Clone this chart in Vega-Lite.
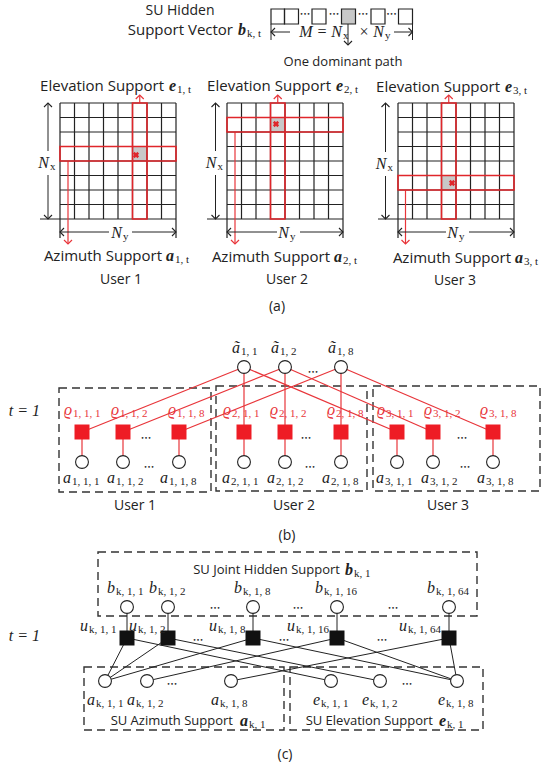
{
"$schema":"https://vega.github.io/schema/vega-lite/v6.json",
"width":542,"height":770,"autosize":{"type":"none"},"padding":0,"background":"white",
"config":{"view":{"stroke":null}},
"datasets":{
"dash":[{"x":59,"y":388,"x2":211,"y2":492},{"x":216,"y":386,"x2":367,"y2":491},{"x":373,"y":386,"x2":540,"y2":491},{"x":98,"y":552,"x2":477,"y2":616},{"x":84,"y":667,"x2":284,"y2":730},{"x":290,"y":667,"x2":483,"y2":730}],
"grey":[{"x":132.5,"y":146.5,"x2":147,"y2":161},{"x":270.5,"y":117.5,"x2":285,"y2":132},{"x":441.5,"y":175.5,"x2":456,"y2":190},{"x":341.5,"y":9,"x2":355.5,"y2":24}],
"grid":[
{"x":60,"y":103,"x2":60,"y2":238},{"x":74.5,"y":103,"x2":74.5,"y2":219},{"x":89,"y":103,"x2":89,"y2":219},{"x":103.5,"y":103,"x2":103.5,"y2":219},{"x":118,"y":103,"x2":118,"y2":219},{"x":132.5,"y":103,"x2":132.5,"y2":219},{"x":147,"y":103,"x2":147,"y2":219},{"x":161.5,"y":103,"x2":161.5,"y2":219},{"x":176,"y":103,"x2":176,"y2":238},
{"x":60,"y":103,"x2":176,"y2":103},{"x":60,"y":117.5,"x2":176,"y2":117.5},{"x":60,"y":132,"x2":176,"y2":132},{"x":60,"y":146.5,"x2":176,"y2":146.5},{"x":60,"y":161,"x2":176,"y2":161},{"x":60,"y":175.5,"x2":176,"y2":175.5},{"x":60,"y":190,"x2":176,"y2":190},{"x":60,"y":204.5,"x2":176,"y2":204.5},{"x":40,"y":219,"x2":176,"y2":219},
{"x":227,"y":103,"x2":227,"y2":238},{"x":241.5,"y":103,"x2":241.5,"y2":219},{"x":256,"y":103,"x2":256,"y2":219},{"x":270.5,"y":103,"x2":270.5,"y2":219},{"x":285,"y":103,"x2":285,"y2":219},{"x":299.5,"y":103,"x2":299.5,"y2":219},{"x":314,"y":103,"x2":314,"y2":219},{"x":328.5,"y":103,"x2":328.5,"y2":219},{"x":343,"y":103,"x2":343,"y2":238},
{"x":227,"y":103,"x2":343,"y2":103},{"x":227,"y":117.5,"x2":343,"y2":117.5},{"x":227,"y":132,"x2":343,"y2":132},{"x":227,"y":146.5,"x2":343,"y2":146.5},{"x":227,"y":161,"x2":343,"y2":161},{"x":227,"y":175.5,"x2":343,"y2":175.5},{"x":227,"y":190,"x2":343,"y2":190},{"x":227,"y":204.5,"x2":343,"y2":204.5},{"x":207,"y":219,"x2":343,"y2":219},
{"x":398,"y":103,"x2":398,"y2":238},{"x":412.5,"y":103,"x2":412.5,"y2":219},{"x":427,"y":103,"x2":427,"y2":219},{"x":441.5,"y":103,"x2":441.5,"y2":219},{"x":456,"y":103,"x2":456,"y2":219},{"x":470.5,"y":103,"x2":470.5,"y2":219},{"x":485,"y":103,"x2":485,"y2":219},{"x":499.5,"y":103,"x2":499.5,"y2":219},{"x":514,"y":103,"x2":514,"y2":238},
{"x":398,"y":103,"x2":514,"y2":103},{"x":398,"y":117.5,"x2":514,"y2":117.5},{"x":398,"y":132,"x2":514,"y2":132},{"x":398,"y":146.5,"x2":514,"y2":146.5},{"x":398,"y":161,"x2":514,"y2":161},{"x":398,"y":175.5,"x2":514,"y2":175.5},{"x":398,"y":190,"x2":514,"y2":190},{"x":398,"y":204.5,"x2":514,"y2":204.5},{"x":378,"y":219,"x2":514,"y2":219}],
"vbox":[{"x":271,"y":9,"x2":284.5,"y2":24},{"x":284.5,"y":9,"x2":298.5,"y2":24},{"x":312,"y":9,"x2":326,"y2":24},{"x":341.5,"y":9,"x2":355.5,"y2":24},{"x":371,"y":9,"x2":385,"y2":24},{"x":398.5,"y":9,"x2":412.5,"y2":24}],
"redline":[
{"x":139.75,"y":103,"x2":139.75,"y2":95},{"x":68,"y":161,"x2":68,"y2":244},{"x":277.75,"y":103,"x2":277.75,"y2":95},{"x":235,"y":132,"x2":235,"y2":244},{"x":448.75,"y":103,"x2":448.75,"y2":95},{"x":405.5,"y":190,"x2":405.5,"y2":244},
{"x":244,"y":367,"x2":82,"y2":432},{"x":244,"y":367,"x2":244,"y2":432},{"x":244,"y":367,"x2":397,"y2":432},
{"x":285,"y":367,"x2":123,"y2":432},{"x":285,"y":367,"x2":285,"y2":432},{"x":285,"y":367,"x2":433,"y2":432},
{"x":341,"y":367,"x2":179,"y2":432},{"x":341,"y":367,"x2":341,"y2":432},{"x":341,"y":367,"x2":493,"y2":432},
{"x":82,"y":432,"x2":82,"y2":462},{"x":123,"y":432,"x2":123,"y2":462},{"x":179,"y":432,"x2":179,"y2":462},{"x":244,"y":432,"x2":244,"y2":462},{"x":285,"y":432,"x2":285,"y2":462},{"x":341,"y":432,"x2":341,"y2":462},{"x":397,"y":432,"x2":397,"y2":462},{"x":433,"y":432,"x2":433,"y2":462},{"x":493,"y":432,"x2":493,"y2":462}],
"redbox":[{"x":60,"y":146.5,"x2":176,"y2":161},{"x":132.5,"y":103,"x2":147,"y2":219},{"x":227,"y":117.5,"x2":343,"y2":132},{"x":270.5,"y":103,"x2":285,"y2":219},{"x":398,"y":175.5,"x2":514,"y2":190},{"x":441.5,"y":103,"x2":456,"y2":219}],
"blackline":[
{"x":48,"y":103,"x2":48,"y2":151},{"x":48,"y":175,"x2":48,"y2":219},{"x":215.5,"y":103,"x2":215.5,"y2":151},{"x":215.5,"y":175,"x2":215.5,"y2":219},{"x":385.5,"y":103,"x2":385.5,"y2":152},{"x":385.5,"y":176,"x2":385.5,"y2":219},
{"x":60,"y":232,"x2":109,"y2":232},{"x":132,"y":232,"x2":176,"y2":232},{"x":227,"y":232,"x2":277,"y2":232},{"x":300,"y":232,"x2":343,"y2":232},{"x":398,"y":232,"x2":446,"y2":232},{"x":469,"y":232,"x2":514,"y2":232},
{"x":271,"y":24,"x2":271,"y2":40},{"x":412.5,"y":24,"x2":412.5,"y2":40},{"x":271,"y":32,"x2":290,"y2":32},{"x":394,"y":32,"x2":412.5,"y2":32},{"x":348,"y":24,"x2":348,"y2":45},
{"x":127,"y":607,"x2":127,"y2":638},{"x":168,"y":607,"x2":168,"y2":638},{"x":253,"y":607,"x2":253,"y2":638},{"x":337,"y":607,"x2":337,"y2":638},{"x":449,"y":607,"x2":449,"y2":638},
{"x":127,"y":638,"x2":105,"y2":681},{"x":127,"y":638,"x2":331,"y2":681},{"x":168,"y":638,"x2":105,"y2":681},{"x":168,"y":638,"x2":380,"y2":681},{"x":253,"y":638,"x2":105,"y2":681},{"x":253,"y":638,"x2":457,"y2":681},{"x":337,"y":638,"x2":147,"y2":681},{"x":337,"y":638,"x2":457,"y2":681},{"x":449,"y":638,"x2":231,"y2":681},{"x":449,"y":638,"x2":457,"y2":681}],
"bhead":[{"x":48,"y":103,"dir":"up"},{"x":48,"y":219,"dir":"down"},{"x":215.5,"y":103,"dir":"up"},{"x":215.5,"y":219,"dir":"down"},{"x":385.5,"y":103,"dir":"up"},{"x":385.5,"y":219,"dir":"down"},
{"x":60,"y":232,"dir":"left"},{"x":176,"y":232,"dir":"right"},{"x":227,"y":232,"dir":"left"},{"x":343,"y":232,"dir":"right"},{"x":398,"y":232,"dir":"left"},{"x":514,"y":232,"dir":"right"},
{"x":271,"y":32,"dir":"left"},{"x":412.5,"y":32,"dir":"right"},{"x":348,"y":45,"dir":"down"}],
"rhead":[{"x":139.75,"y":95,"dir":"up"},{"x":68,"y":244,"dir":"down"},{"x":277.75,"y":95,"dir":"up"},{"x":235,"y":244,"dir":"down"},{"x":448.75,"y":95,"dir":"up"},{"x":405.5,"y":244,"dir":"down"}],
"node":[{"x":244,"y":367},{"x":285,"y":367},{"x":341,"y":367},
{"x":82,"y":462},{"x":123,"y":462},{"x":179,"y":462},{"x":244,"y":462},{"x":285,"y":462},{"x":341,"y":462},{"x":397,"y":462},{"x":433,"y":462},{"x":493,"y":462},
{"x":127,"y":607},{"x":168,"y":607},{"x":253,"y":607},{"x":337,"y":607},{"x":449,"y":607},
{"x":105,"y":681},{"x":147,"y":681},{"x":231,"y":681},{"x":331,"y":681},{"x":380,"y":681},{"x":457,"y":681}],
"redsq":[{"x":82,"y":432},{"x":123,"y":432},{"x":179,"y":432},{"x":244,"y":432},{"x":285,"y":432},{"x":341,"y":432},{"x":397,"y":432},{"x":433,"y":432},{"x":493,"y":432}],
"blacksq":[{"x":127,"y":638},{"x":168,"y":638},{"x":253,"y":638},{"x":337,"y":638},{"x":449,"y":638}],
"xmark":[{"x":136,"y":155},{"x":276,"y":124},{"x":452,"y":183}],
"dots":[{"x":305,"y":14},{"x":334,"y":14},{"x":363,"y":14},{"x":391.5,"y":14},
{"x":313,"y":372},{"x":146,"y":438},{"x":306,"y":438},{"x":462,"y":438},{"x":149,"y":467},{"x":310,"y":467},{"x":465,"y":467},
{"x":215,"y":608},{"x":298,"y":608},{"x":393,"y":608},{"x":198,"y":640},{"x":284,"y":640},{"x":382,"y":640},{"x":172,"y":684},{"x":407,"y":684}],
"sansC14":[{"x":180,"y":11,"t":"SU Hidden"},{"x":121,"y":280,"t":"User 1"},{"x":287,"y":280,"t":"User 2"},{"x":455,"y":281,"t":"User 3"},{"x":277,"y":307,"t":"(a)"},{"x":135,"y":506,"t":"User 1"},{"x":294,"y":506,"t":"User 2"},{"x":448,"y":506,"t":"User 3"},{"x":287,"y":536,"t":"(b)"},{"x":285,"y":755,"t":"(c)"}],
"sansC13":[{"x":343,"y":62,"t":"One dominant path"}],
"sansR15":[{"x":233,"y":30,"t":"Support Vector"},{"x":164,"y":86,"t":"Elevation Support"},{"x":331,"y":86,"t":"Elevation Support"},{"x":500,"y":87,"t":"Elevation Support"},{"x":162,"y":256,"t":"Azimuth Support"},{"x":330,"y":257,"t":"Azimuth Support"},{"x":511,"y":258,"t":"Azimuth Support"}],
"sansR13":[{"x":340,"y":570,"t":"SU Joint Hidden Support"},{"x":233,"y":721,"t":"SU Azimuth Support"},{"x":433,"y":721,"t":"SU Elevation Support"}],
"math":[{"x":49,"y":163,"m":"N","s":"x"},{"x":216.5,"y":163,"m":"N","s":"x"},{"x":386.5,"y":164,"m":"N","s":"x"},
{"x":122,"y":233,"m":"N","s":"y"},{"x":289,"y":233,"m":"N","s":"y"},{"x":458,"y":233,"m":"N","s":"y"},
{"x":342,"y":32,"m":"M  =  N","s":"x"},{"x":384,"y":32,"m":"× N","s":"y"},
{"x":40,"y":411,"m":"t = 1","s":""},{"x":40,"y":636,"m":"t = 1","s":""},
{"x":240,"y":348,"m":"ã","s":"1, 1"},{"x":279,"y":348,"m":"ã","s":"1, 2"},{"x":336,"y":348,"m":"ã","s":"1, 8"},
{"x":71,"y":478,"m":"a","s":"1, 1, 1"},{"x":115,"y":478,"m":"a","s":"1, 1, 2"},{"x":168,"y":478,"m":"a","s":"1, 1, 8"},{"x":230,"y":478,"m":"a","s":"2, 1, 1"},{"x":275,"y":478,"m":"a","s":"2, 1, 2"},{"x":330,"y":478,"m":"a","s":"2, 1, 8"},{"x":384,"y":478,"m":"a","s":"3, 1, 1"},{"x":429,"y":478,"m":"a","s":"3, 1, 2"},{"x":485,"y":478,"m":"a","s":"3, 1, 8"},
{"x":115,"y":588,"m":"b","s":"k, 1, 1"},{"x":157,"y":588,"m":"b","s":"k, 1, 2"},{"x":242,"y":588,"m":"b","s":"k, 1, 8"},{"x":323,"y":588,"m":"b","s":"k, 1, 16"},{"x":435,"y":588,"m":"b","s":"k, 1, 64"},
{"x":88,"y":626,"m":"u","s":"k, 1, 1"},{"x":137,"y":626,"m":"u","s":"k, 1, 2"},{"x":217,"y":626,"m":"u","s":"k, 1, 8"},{"x":295,"y":626,"m":"u","s":"k, 1, 16"},{"x":407,"y":626,"m":"u","s":"k, 1, 64"},
{"x":95,"y":700,"m":"a","s":"k, 1, 1"},{"x":135,"y":700,"m":"a","s":"k, 1, 2"},{"x":219,"y":700,"m":"a","s":"k, 1, 8"},{"x":320,"y":700,"m":"e","s":"k, 1, 1"},{"x":369,"y":700,"m":"e","s":"k, 1, 2"},{"x":445,"y":700,"m":"e","s":"k, 1, 8"}],
"mathRed":[{"x":72,"y":410,"m":"ϱ","s":"1, 1, 1"},{"x":119,"y":410,"m":"ϱ","s":"1, 1, 2"},{"x":176,"y":410,"m":"ϱ","s":"1, 1, 8"},{"x":231,"y":410,"m":"ϱ","s":"2, 1, 1"},{"x":278,"y":410,"m":"ϱ","s":"2, 1, 2"},{"x":335,"y":410,"m":"ϱ","s":"2, 1, 8"},{"x":385,"y":410,"m":"ϱ","s":"3, 1, 1"},{"x":432,"y":410,"m":"ϱ","s":"3, 1, 2"},{"x":488,"y":410,"m":"ϱ","s":"3, 1, 8"}],
"mathB":[{"x":246,"y":30,"m":"b","s":"k, t"},{"x":176,"y":86,"m":"e","s":"1, t"},{"x":343,"y":86,"m":"e","s":"2, t"},{"x":512,"y":87,"m":"e","s":"3, t"},{"x":174,"y":256,"m":"a","s":"1, t"},{"x":342,"y":257,"m":"a","s":"2, t"},{"x":523,"y":258,"m":"a","s":"3, t"},{"x":353,"y":570,"m":"b","s":"k, 1"},{"x":248,"y":721,"m":"a","s":"k, 1"},{"x":446,"y":721,"m":"e","s":"k, 1"}]
},
"encoding":{
"x":{"field":"x","type":"quantitative","scale":{"domain":[0,542],"nice":false,"zero":false},"axis":null},
"y":{"field":"y","type":"quantitative","scale":{"domain":[0,770],"nice":false,"zero":false,"reverse":true},"axis":null}
},
"layer":[
{"data":{"name":"dash"},"mark":{"type":"rect","filled":false,"color":"#333333","strokeWidth":1.4,"strokeDash":[8,5]},"encoding":{"x2":{"field":"x2"},"y2":{"field":"y2"}}},
{"data":{"name":"grey"},"mark":{"type":"rect","color":"#c8c8c8"},"encoding":{"x2":{"field":"x2"},"y2":{"field":"y2"}}},
{"data":{"name":"grid"},"mark":{"type":"rule","color":"#222222","strokeWidth":1.2},"encoding":{"x2":{"field":"x2"},"y2":{"field":"y2"}}},
{"data":{"name":"vbox"},"mark":{"type":"rect","filled":false,"color":"#222222","strokeWidth":1.2},"encoding":{"x2":{"field":"x2"},"y2":{"field":"y2"}}},
{"data":{"name":"redline"},"mark":{"type":"rule","color":"#e8353a","strokeWidth":1.2},"encoding":{"x2":{"field":"x2"},"y2":{"field":"y2"}}},
{"data":{"name":"redbox"},"mark":{"type":"rect","filled":false,"color":"#e0262b","strokeWidth":1.6},"encoding":{"x2":{"field":"x2"},"y2":{"field":"y2"}}},
{"data":{"name":"blackline"},"mark":{"type":"rule","color":"#222222","strokeWidth":1},"encoding":{"x2":{"field":"x2"},"y2":{"field":"y2"}}},
{"data":{"name":"bhead"},"mark":{"type":"point","filled":false,"color":"#222222","size":64,"strokeWidth":1.1,"opacity":1},"encoding":{"shape":{"field":"dir","type":"nominal","legend":null,"scale":{"domain":["up","down","left","right"],"range":["M-1,1L0,0L1,1","M-1,-1L0,0L1,-1","M1,-1L0,0L1,1","M-1,-1L0,0L-1,1"]}}}},
{"data":{"name":"rhead"},"mark":{"type":"point","filled":false,"color":"#e8353a","size":64,"strokeWidth":1.2,"opacity":1},"encoding":{"shape":{"field":"dir","type":"nominal","legend":null}}},
{"data":{"name":"node"},"mark":{"type":"point","shape":"circle","filled":true,"fill":"white","stroke":"#222222","strokeWidth":1.1,"size":165,"opacity":1}},
{"data":{"name":"redsq"},"mark":{"type":"point","shape":"square","filled":true,"color":"#ee1c25","size":225,"opacity":1}},
{"data":{"name":"blacksq"},"mark":{"type":"point","shape":"square","filled":true,"color":"#111111","size":225,"opacity":1}},
{"data":{"name":"xmark"},"mark":{"type":"point","shape":"cross","angle":45,"filled":true,"color":"#e0262b","size":40,"opacity":1}},
{"data":{"name":"dots"},"mark":{"type":"text","text":"•••","font":"DejaVu Sans","fontSize":6,"color":"#222222","align":"center","baseline":"middle"}},
{"data":{"name":"sansC14"},"mark":{"type":"text","font":"Open Sans","fontSize":14,"color":"#222222","align":"center","baseline":"middle"},"encoding":{"text":{"field":"t"}}},
{"data":{"name":"sansC13"},"mark":{"type":"text","font":"Open Sans","fontSize":13,"color":"#222222","align":"center","baseline":"middle"},"encoding":{"text":{"field":"t"}}},
{"data":{"name":"sansR15"},"mark":{"type":"text","font":"Open Sans","fontSize":15,"color":"#222222","align":"right","baseline":"middle"},"encoding":{"text":{"field":"t"}}},
{"data":{"name":"sansR13"},"mark":{"type":"text","font":"Open Sans","fontSize":13,"color":"#222222","align":"right","baseline":"middle"},"encoding":{"text":{"field":"t"}}},
{"data":{"name":"math"},"mark":{"type":"text","font":"Liberation Serif","fontStyle":"italic","fontSize":16,"color":"#222222","align":"right","baseline":"middle"},"encoding":{"text":{"field":"m"}}},
{"data":{"name":"math"},"mark":{"type":"text","font":"Liberation Serif","fontSize":11,"color":"#222222","align":"left","baseline":"middle","dx":1,"dy":4},"encoding":{"text":{"field":"s"}}},
{"data":{"name":"mathRed"},"mark":{"type":"text","font":"Liberation Serif","fontStyle":"italic","fontSize":16,"color":"#e8353a","align":"right","baseline":"middle"},"encoding":{"text":{"field":"m"}}},
{"data":{"name":"mathRed"},"mark":{"type":"text","font":"Liberation Serif","fontSize":11,"color":"#e8353a","align":"left","baseline":"middle","dx":1,"dy":4},"encoding":{"text":{"field":"s"}}},
{"data":{"name":"mathB"},"mark":{"type":"text","font":"Liberation Serif","fontStyle":"italic","fontWeight":"bold","fontSize":16,"color":"#222222","align":"right","baseline":"middle"},"encoding":{"text":{"field":"m"}}},
{"data":{"name":"mathB"},"mark":{"type":"text","font":"Liberation Serif","fontSize":11,"color":"#222222","align":"left","baseline":"middle","dx":1,"dy":4},"encoding":{"text":{"field":"s"}}}
]
}
